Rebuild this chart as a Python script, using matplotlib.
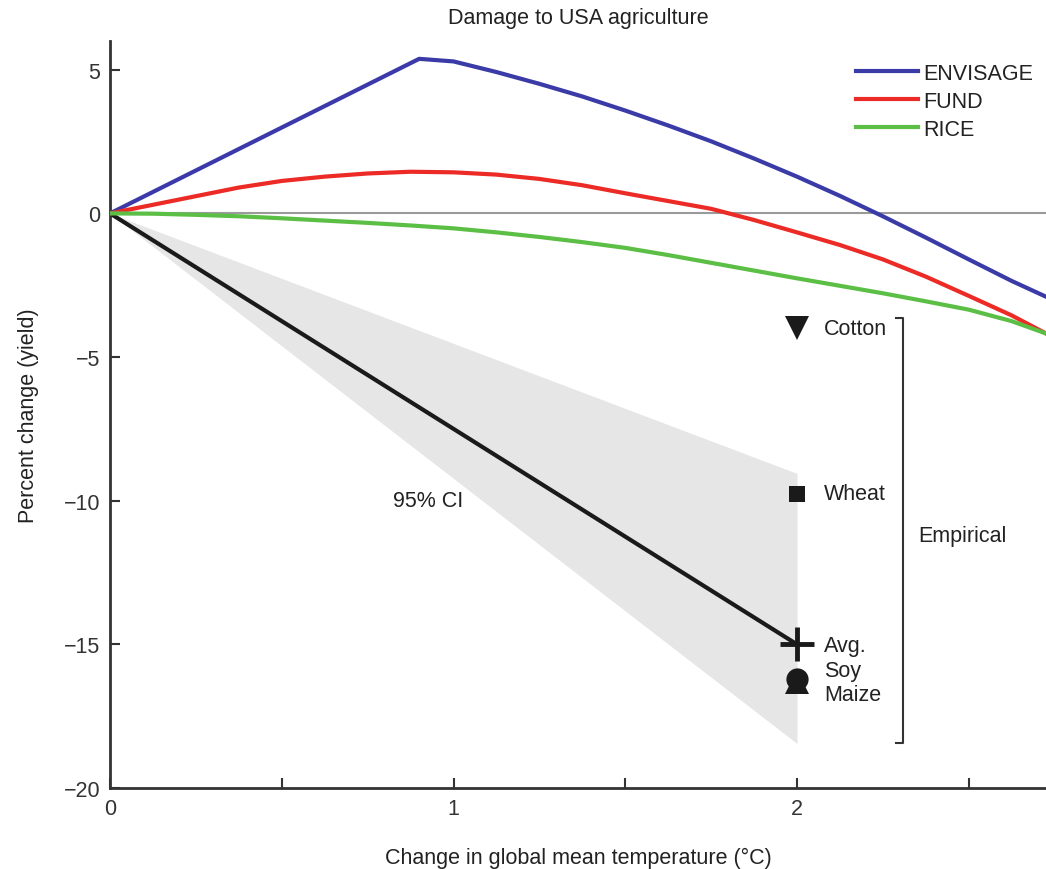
import numpy as np
import matplotlib
matplotlib.use("Agg")
import matplotlib.pyplot as plt

plt.rcParams['font.family'] = ['Liberation Sans', 'DejaVu Sans']
plt.rcParams['text.color'] = '#222222'
plt.rcParams['axes.labelcolor'] = '#222222'
plt.rcParams['xtick.color'] = '#333333'
plt.rcParams['ytick.color'] = '#333333'

# model projections of US yield change vs warming
envisage_t = [0.0, 0.9, 1.0, 1.125, 1.25, 1.375, 1.5, 1.625, 1.75, 1.875,
              2.0, 2.125, 2.25, 2.375, 2.5, 2.625, 2.725]
envisage_y = [0.0, 5.38, 5.29, 4.92, 4.51, 4.07, 3.58, 3.06, 2.51, 1.91,
              1.28, 0.61, -0.10, -0.84, -1.60, -2.35, -2.9]

fund_t = [0.0, 0.125, 0.25, 0.375, 0.5, 0.625, 0.75, 0.875, 1.0, 1.125, 1.25,
          1.375, 1.5, 1.625, 1.75, 1.875, 2.0, 2.125, 2.25, 2.375, 2.5, 2.625, 2.725]
fund_y = [0.0, 0.30, 0.60, 0.90, 1.13, 1.28, 1.39, 1.45, 1.43, 1.35, 1.20,
          0.98, 0.70, 0.43, 0.16, -0.23, -0.66, -1.10, -1.60, -2.20, -2.87, -3.55, -4.18]

rice_t = [0.0, 0.125, 0.25, 0.375, 0.5, 0.625, 0.75, 0.875, 1.0, 1.125, 1.25,
          1.375, 1.5, 1.625, 1.75, 1.875, 2.0, 2.125, 2.25, 2.375, 2.5, 2.625, 2.725]
rice_y = [0.0, -0.01, -0.05, -0.10, -0.17, -0.25, -0.33, -0.42, -0.52, -0.66, -0.82,
          -1.00, -1.20, -1.45, -1.72, -1.99, -2.26, -2.52, -2.78, -3.06, -3.35, -3.75, -4.18]

# empirical estimate with its 95% confidence band
emp_t = [0.0, 2.0]
emp_avg = [0.0, -15.0]
emp_lo = [0.0, -18.45]
emp_hi = [0.0, -9.05]

crops = ['Cotton', 'Wheat', 'Avg.', 'Soy', 'Maize']
crop_y = [-4.0, -9.75, -15.0, -16.2, -16.3]
crop_marker = ['v', 's', '+', 'o', '^']
crop_size = [17, 12, 24, 16, 17]
label_y = [-4.0, -9.75, -15.05, -15.9, -16.75]

fig = plt.figure(figsize=(10.46, 8.7), dpi=100)
ax = fig.add_axes([0.1052, 0.0931, 0.8948, 0.8586])

ax.axhline(0, color='#9a9a9a', lw=1.5, zorder=1)
ax.fill_between(emp_t, emp_lo, emp_hi, color='#e6e6e6', lw=0, zorder=0)
ax.plot(emp_t, emp_avg, color='#1a1a1a', lw=3, zorder=3)

ax.plot(envisage_t, envisage_y, color='#3b3ba8', lw=3, label='ENVISAGE', zorder=4)
ax.plot(fund_t, fund_y, color='#ec2a26', lw=3, label='FUND', zorder=4)
ax.plot(rice_t, rice_y, color='#5cbf45', lw=3, label='RICE', zorder=5)

for name, y, m, s, ly in zip(crops, crop_y, crop_marker, crop_size, label_y):
    ax.plot(2.0, y, marker=m, ms=s, color='#1a1a1a', mew=3.5 if m == '+' else 0,
            ls='none', zorder=6)
    ax.text(2.078, ly, name, fontsize=15.5, ha='left', va='center')

# bracket grouping the empirical points
bx, btop, bbot = 2.309, -3.65, -18.45
ax.plot([bx - 0.022, bx, bx, bx - 0.022], [btop, btop, bbot, bbot],
        color='#333333', lw=1.5, clip_on=False)
ax.text(2.353, -11.2, 'Empirical', fontsize=15.5, ha='left', va='center')
ax.text(0.925, -10.0, '95% CI', fontsize=15.5, ha='center', va='center')

ax.set_xlim(0, 2.725)
ax.set_ylim(-20, 6)
ax.set_xticks([0, 0.5, 1, 1.5, 2, 2.5])
ax.set_xticklabels(['0', '', '1', '', '2', ''])
ax.set_yticks([-20, -15, -10, -5, 0, 5])
ax.tick_params(direction='in', length=7, width=1.5, labelsize=15.5, pad=7)

for side in ['top', 'right']:
    ax.spines[side].set_visible(False)
for side in ['left', 'bottom']:
    ax.spines[side].set_linewidth(2)
    ax.spines[side].set_color('#333333')

ax.set_xlabel('Change in global mean temperature (°C)', fontsize=15.5, labelpad=20)
ax.set_ylabel('Percent change (yield)', fontsize=15.5, labelpad=18)
ax.set_title('Damage to USA agriculture', fontsize=15.5, pad=13)

ax.legend(loc='upper left', bbox_to_anchor=(0.785, 0.985), frameon=False,
          fontsize=15.5, handlelength=2.9, handletextpad=0.25,
          labelspacing=0.32, borderpad=0)

fig.savefig('out.png', dpi=100)
